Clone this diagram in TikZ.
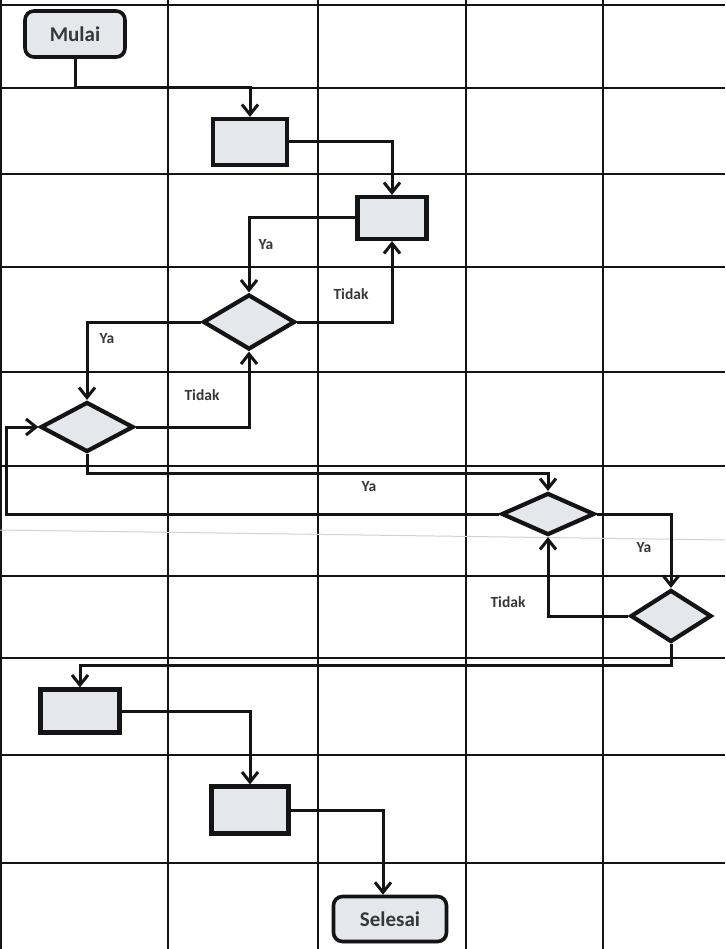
\documentclass[tikz,border=0pt]{standalone}
\usepackage{fontspec}
\setmainfont{Carlito}
\usetikzlibrary{arrows.meta,shapes.geometric,shadows}
\definecolor{boxfill}{HTML}{E4E7EC}
\definecolor{ink}{HTML}{141414}
\begin{document}
\begin{tikzpicture}[x=1pt,y=-1pt,
  gridline/.style={line width=2.2pt,draw=ink},
  flow/.style={line width=3pt,draw=ink,-{Straight Barb[length=10pt,width=16pt,line width=3pt]}},
  procbox/.style={draw=ink,line width=4.2pt,fill=boxfill,inner sep=0pt},
  decbox/.style={diamond,draw=ink,line width=4.2pt,fill=boxfill,inner sep=0pt},
  termbox/.style={draw=ink,line width=3.6pt,fill=boxfill,rounded corners=9pt,inner sep=0pt,
    drop shadow={shadow xshift=1.5pt,shadow yshift=-2pt,opacity=0.35},
    font=\bfseries\fontsize{21}{22}\selectfont,text=ink!85},
  lbl/.style={font=\bfseries\fontsize{15.5}{16}\selectfont,text=ink!85,inner sep=0pt}
]
\useasboundingbox (0,0) rectangle (725,949);
\fill[white] (0,0) rectangle (725,949);
% grid
\foreach \gx in {1,168,318,466,603} \draw[gridline] (\gx,0) -- (\gx,949);
\foreach \gy in {5,88,174,267,372,466,576,658,755,863} \draw[gridline] (0,\gy) -- (725,\gy);
\draw[gray!35,line width=1pt] (0,530) -- (725,540);
% nodes
\node[termbox,minimum width=100pt,minimum height=46pt] (mulai) at (75,34) {Mulai};
\node[procbox,minimum width=74pt,minimum height=46pt] (b1) at (250,142) {};
\node[procbox,minimum width=69pt,minimum height=42pt] (b2) at (392,218) {};
\node[decbox,minimum width=92pt,minimum height=55pt] (d1) at (249,322) {};
\node[decbox,minimum width=93pt,minimum height=50pt] (d2) at (87,427) {};
\node[decbox,minimum width=93pt,minimum height=42pt] (d3) at (548,514) {};
\node[decbox,minimum width=81pt,minimum height=52pt] (d4) at (671,616) {};
\node[procbox,minimum width=79pt,minimum height=43pt] (b3) at (80,711) {};
\node[procbox,minimum width=77pt,minimum height=47pt] (b4) at (250,810) {};
\node[termbox,minimum width=113pt,minimum height=45pt] (selesai) at (390,919) {Selesai};
% bend points
\coordinate (k1) at (250,88);
\coordinate (k2) at (548,473);
\coordinate (k3) at (6,514);
\coordinate (k5) at (80,665);
% connectors
\draw[flow] (mulai.south) |- (k1) -- (b1.north);
\draw[flow] (b1.east) -| (b2.north);
\draw[flow] (b2.west) -| (d1.north);
\draw[flow] (d1.east) -| (b2.south);
\draw[flow] (d1.west) -| (d2.north);
\draw[flow] (d2.east) -| (d1.south);
\draw[flow] (d2.south) |- (k2) -- (d3.north);
\draw[flow] (d3.west) -- (k3) |- (d2.west);
\draw[flow] (d3.east) -| (d4.north);
\draw[flow] (d4.west) -| (d3.south);
\draw[flow] (d4.south) |- (k5) -- (b3.north);
\draw[flow] (b3.east) -| (b4.north);
\draw[flow] (b4.east) -| ([xshift=-7pt]selesai.north);
% labels
\node[lbl] (l1) at (266,245) {Ya};
\node[lbl] (l2) at (351,294) {Tidak};
\node[lbl] (l3) at (107,339) {Ya};
\node[lbl] (l4) at (202,395) {Tidak};
\node[lbl] (l5) at (369,487) {Ya};
\node[lbl] (l6) at (644,548) {Ya};
\node[lbl] (l7) at (508,602) {Tidak};
\end{tikzpicture}
\end{document}
